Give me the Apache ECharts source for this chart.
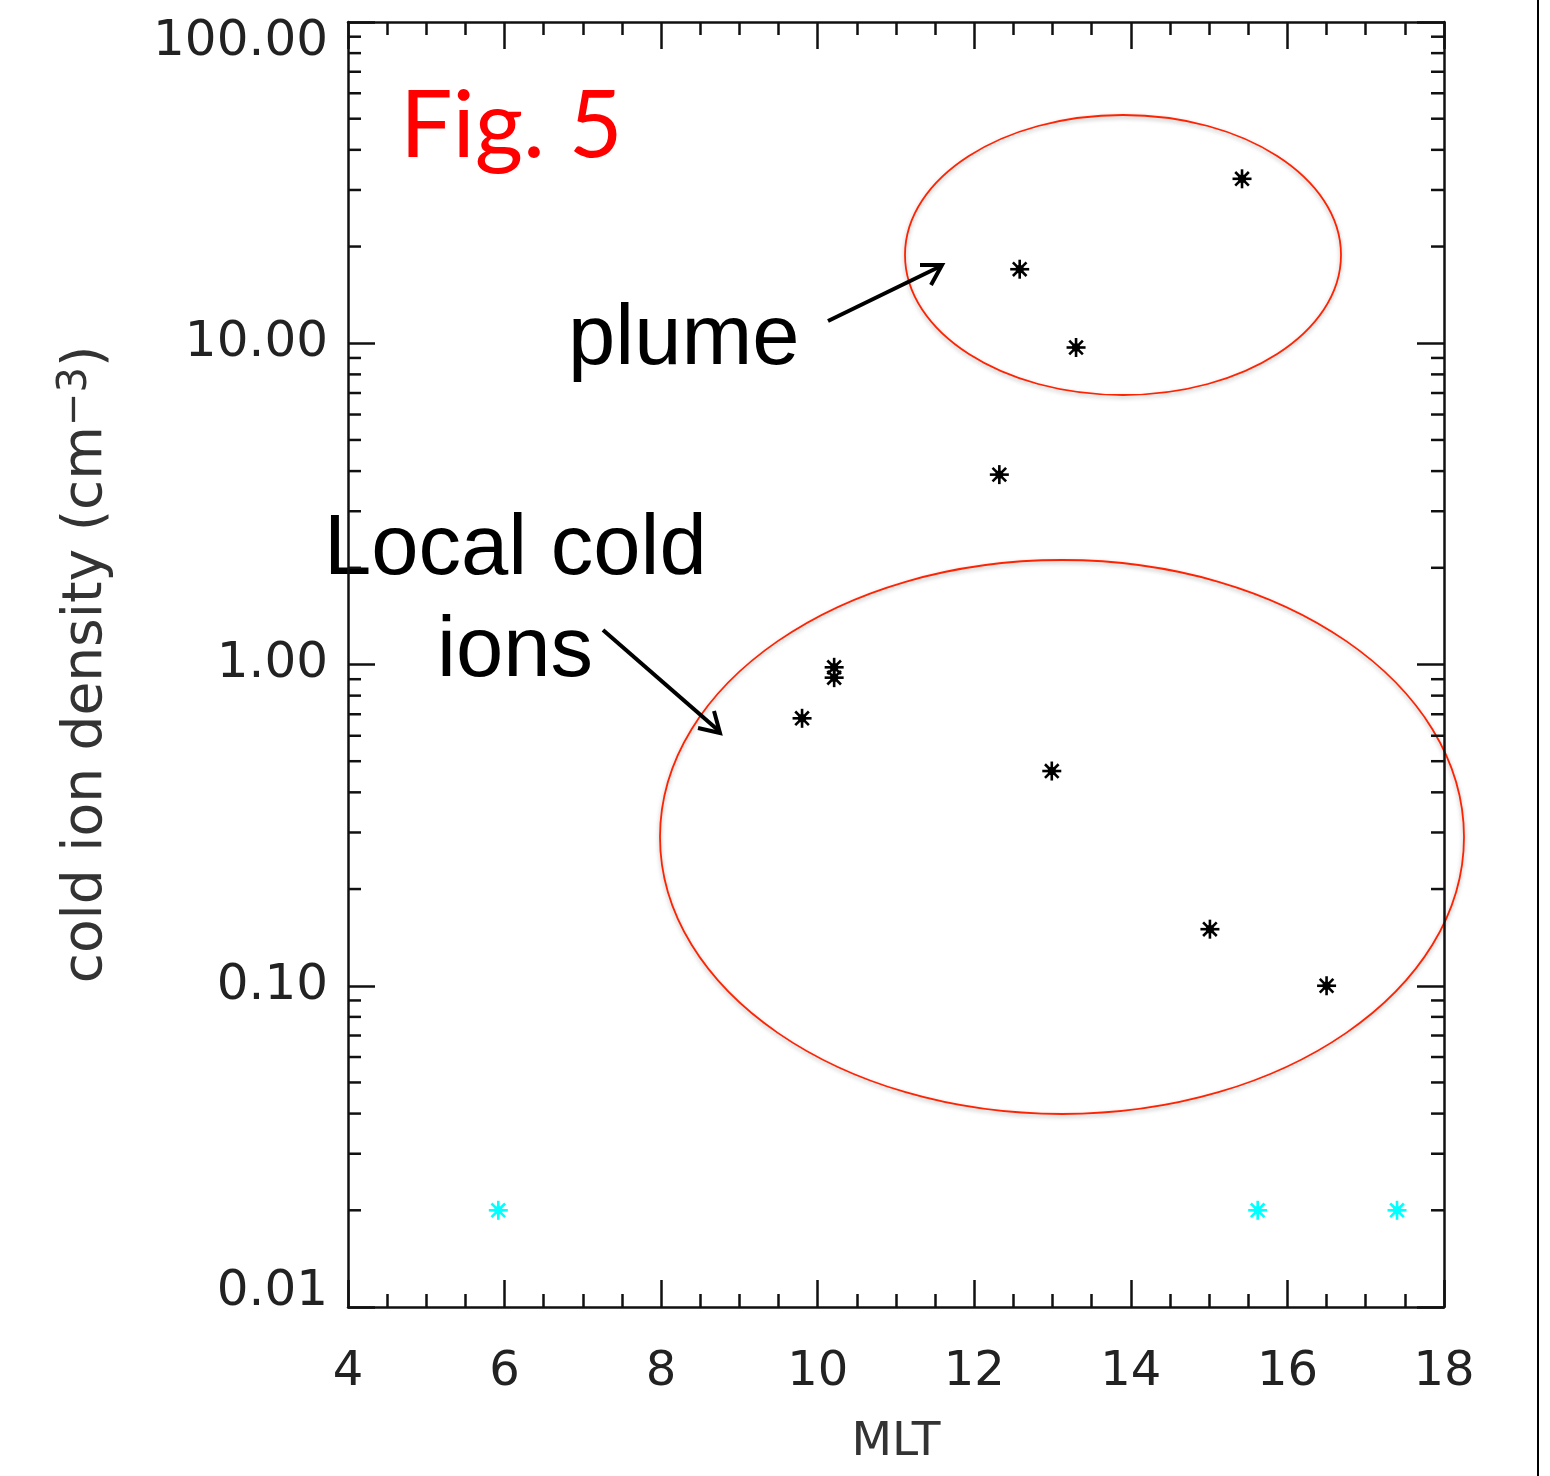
<!DOCTYPE html>
<html>
<head>
<meta charset="utf-8">
<script src="https://cdn.jsdelivr.net/npm/echarts@6/dist/echarts.min.js"></script>
<style>
  html, body { margin: 0; padding: 0; background: #fff; }
  #main { width: 1550px; height: 1476px; }
</style>
</head>
<body>
<div id="main"></div>
<script>
// black points (inside the plume / local cold ion groups)
const mltBlack = [15.42, 12.58, 13.30, 12.32, 10.21, 10.21, 9.80, 12.99, 15.01, 16.50]
const densBlack = [32.5, 17.0, 9.7, 3.9, 0.98, 0.91, 0.68, 0.466, 0.150, 0.100]
// cyan points at the bottom
const mltCyan = [5.92, 15.62, 17.40]
const densCyan = [0.02, 0.02, 0.02]

const yDecades = [0.01, 0.1, 1, 10, 100]
const minorMult = [2, 3, 4, 5, 6, 7, 8, 9]

const labelFont = 'DejaVu Sans'
const axisColor = '#111'

const minorVals = []
for (let d = 0; d < yDecades.length - 1; d++) {
  for (let k = 0; k < minorMult.length; k++) {
    minorVals.push([4, yDecades[d] * minorMult[k]])
  }
}

// IDL style asterisk (psym=2)
function starItem(color) {
  return function (params, api) {
    const p = api.coord([api.value(0), api.value(1)])
    const r = 9.5, d = 6.8
    const st = { stroke: color, lineWidth: 2.6 }
    return {
      type: 'group',
      children: [
        { type: 'line', shape: { x1: p[0] - r, y1: p[1], x2: p[0] + r, y2: p[1] }, style: st },
        { type: 'line', shape: { x1: p[0], y1: p[1] - r, x2: p[0], y2: p[1] + r }, style: st },
        { type: 'line', shape: { x1: p[0] - d, y1: p[1] - d, x2: p[0] + d, y2: p[1] + d }, style: st },
        { type: 'line', shape: { x1: p[0] - d, y1: p[1] + d, x2: p[0] + d, y2: p[1] - d }, style: st },
        { type: 'circle', shape: { cx: p[0], cy: p[1], r: 4.2 }, style: { fill: color } }
      ]
    }
  }
}

let chart = echarts.init(document.getElementById('main'))

let xBase = {
  type: 'value', min: 4, max: 18, interval: 2,
  axisLine: { show: true, lineStyle: { color: axisColor, width: 2.5 } },
  axisTick: { show: true, inside: true, length: 27, lineStyle: { color: axisColor, width: 2.5 } },
  minorTick: { show: true, splitNumber: 4, length: 13, lineStyle: { color: axisColor, width: 2.5 } },
  splitLine: { show: false }
}
let yBase = {
  type: 'log', logBase: 10, min: 0.01, max: 100,
  axisLine: { show: true, lineStyle: { color: axisColor, width: 2.5 } },
  axisTick: { show: true, inside: true, length: 27, lineStyle: { color: axisColor, width: 2.5 } },
  splitLine: { show: false }
}

let option = {
  backgroundColor: '#fff',
  animation: false,
  grid: { left: 348, right: 106, top: 22, bottom: 169 },
  xAxis: [
    Object.assign({}, xBase, {
      position: 'bottom',
      name: 'MLT', nameLocation: 'middle', nameGap: 112,
      nameTextStyle: { fontFamily: labelFont, fontSize: 47, color: '#333' },
      axisLabel: { show: true, margin: 42, fontFamily: labelFont, fontSize: 48, color: '#222' }
    }),
    Object.assign({}, xBase, { position: 'top', axisLabel: { show: false } })
  ],
  yAxis: [
    Object.assign({}, yBase, {
      position: 'left',
      name: '{a|cold ion density (cm}{s|−3}{a|)}',
      nameLocation: 'middle', nameRotate: 90, nameGap: 230,
      nameTextStyle: {
        rich: {
          a: { fontFamily: labelFont, fontSize: 55, color: '#333', lineHeight: 62 },
          s: { fontFamily: labelFont, fontSize: 40, color: '#333', verticalAlign: 'top', lineHeight: 62, padding: [0, 0, 26, 0] }
        }
      },
      axisLabel: {
        show: true, margin: 20, color: '#222',
        formatter: function (v) {
          const s = Number(v).toFixed(2)
          if (v >= 100) return '{top|' + s + '}'
          if (v <= 0.01) return '{bot|' + s + '}'
          return '{n|' + s + '}'
        },
        rich: {
          n: { fontFamily: labelFont, fontSize: 50, color: '#222' },
          top: { fontFamily: labelFont, fontSize: 50, color: '#222', padding: [40, 0, 0, 0] },
          bot: { fontFamily: labelFont, fontSize: 50, color: '#222', padding: [0, 0, 30, 0] }
        }
      }
    }),
    Object.assign({}, yBase, { position: 'right', axisLabel: { show: false } })
  ],
  series: [
    {
      name: 'minor', type: 'custom', silent: true,
      xAxisIndex: 0, yAxisIndex: 0,
      data: minorVals,
      renderItem: function (params, api) {
        const p = api.coord([api.value(0), api.value(1)])
        const cs = params.coordSys
        const x0 = cs.x, x1 = cs.x + cs.width
        const st = { stroke: axisColor, lineWidth: 2.5 }
        return {
          type: 'group',
          children: [
            { type: 'line', shape: { x1: x0, y1: p[1], x2: x0 + 13, y2: p[1] }, style: st },
            { type: 'line', shape: { x1: x1 - 13, y1: p[1], x2: x1, y2: p[1] }, style: st }
          ]
        }
      }
    },
    {
      name: 'cold', type: 'custom',
      renderItem: starItem('#000'),
      data: mltBlack.map((x, i) => [x, densBlack[i]])
    },
    {
      name: 'none', type: 'custom',
      renderItem: starItem('#00ffff'),
      data: mltCyan.map((x, i) => [x, densCyan[i]])
    }
  ],
  graphic: [
    // slide border on the right
    { type: 'line', shape: { x1: 1538, y1: 0, x2: 1538, y2: 1476 }, style: { stroke: '#000', lineWidth: 2 } },
    // annotation ellipses
    {
      type: 'ellipse', shape: { cx: 1123, cy: 255, rx: 218, ry: 140 },
      style: { fill: null, stroke: '#ff2200', lineWidth: 1.8, shadowBlur: 4, shadowColor: 'rgba(0,0,0,0.3)', shadowOffsetY: 2 }
    },
    {
      type: 'ellipse', shape: { cx: 1062, cy: 837, rx: 402, ry: 277 },
      style: { fill: null, stroke: '#ff2200', lineWidth: 1.8, shadowBlur: 4, shadowColor: 'rgba(0,0,0,0.3)', shadowOffsetY: 2 }
    },
    // arrows
    { type: 'line', shape: { x1: 828, y1: 321, x2: 941, y2: 266 }, style: { stroke: '#000', lineWidth: 4 } },
    { type: 'polyline', shape: { points: [[920, 265], [942, 265], [931, 285]] }, style: { stroke: '#000', lineWidth: 4, fill: null } },
    { type: 'line', shape: { x1: 603, y1: 630, x2: 719, y2: 731 }, style: { stroke: '#000', lineWidth: 4 } },
    { type: 'polyline', shape: { points: [[714, 711], [720, 733], [698, 728]] }, style: { stroke: '#000', lineWidth: 4, fill: null } },
    // texts
    {
      type: 'text', x: 400, y: 127,
      style: { text: 'Fig. 5', fill: '#ff0000', font: '93px Lato', textVerticalAlign: 'middle' }
    },
    {
      type: 'text', x: 568, y: 341,
      style: { text: 'plume', fill: '#000', font: '85px "Liberation Sans"', textVerticalAlign: 'middle' }
    },
    {
      type: 'text', x: 324, y: 551,
      style: { text: 'Local cold', fill: '#000', font: '85px "Liberation Sans"', textVerticalAlign: 'middle' }
    },
    {
      type: 'text', x: 515, y: 653,
      style: { text: 'ions', fill: '#000', font: '85px "Liberation Sans"', textAlign: 'center', textVerticalAlign: 'middle' }
    }
  ]
}
chart.setOption(option)
</script>
</body>
</html>
